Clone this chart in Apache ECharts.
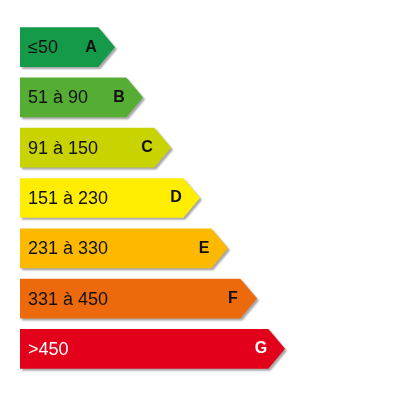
<!DOCTYPE html>
<html>
<head>
<meta charset="utf-8">
<script src="https://cdn.jsdelivr.net/npm/echarts@6/dist/echarts.min.js"></script>
<style>
    html, body { margin: 0; padding: 0; background: #fff; }
    #energy_label { width: 400px; height: 400px; }
</style>
</head>
<body>
<div id="energy_label"></div>
<script>
// classes énergie et plages de consommation
var classes = ['A', 'B', 'C', 'D', 'E', 'F', 'G'];
var ranges = ['≤50', '51 à 90', '91 à 150', '151 à 230', '231 à 330', '331 à 450', '>450'];
// longueur de chaque flèche (unités de l'axe x)
var lengths = [95, 123, 151, 180, 208, 237, 265];

var barColors = ['#149a48', '#55ae33', '#c9d300', '#ffed00', '#fcb900', '#ec6a0c', '#e2001a'];
var textColors = ['#111', '#111', '#111', '#111', '#111', '#111', '#fff'];

var energyLabel = {
    init: function () {
        var chart = echarts.init(document.getElementById('energy_label'));

        var seriesData = lengths.map(function (len, i) {
            return [len, i];
        });

        var option = {
            animation: false,
            grid: { left: 20, right: 0, top: 22, bottom: 26 },
            xAxis: { type: 'value', min: 0, max: 380, show: false },
            yAxis: { type: 'category', data: classes, inverse: true, show: false },
            series: [{
                type: 'custom',
                encode: { x: 0, y: 1 },
                data: seriesData,
                renderItem: function (params, api) {
                    var i = api.value(1);
                    var start = api.coord([0, i]);
                    var end = api.coord([api.value(0), i]);
                    var h = api.size([0, 1])[1] * 0.79;
                    var tip = h * 0.42;
                    var y = start[1];
                    return {
                        type: 'group',
                        children: [{
                            type: 'polygon',
                            shape: {
                                points: [
                                    [start[0], y - h / 2],
                                    [end[0] - tip, y - h / 2],
                                    [end[0], y],
                                    [end[0] - tip, y + h / 2],
                                    [start[0], y + h / 2]
                                ]
                            },
                            style: {
                                fill: barColors[i],
                                shadowBlur: 2,
                                shadowOffsetX: 2,
                                shadowOffsetY: 2,
                                shadowColor: 'rgba(0, 0, 0, 0.35)'
                            }
                        }, {
                            type: 'text',
                            style: {
                                text: ranges[i],
                                x: start[0] + 8,
                                y: y + 1,
                                fill: textColors[i],
                                fontSize: 18,
                                fontFamily: 'Liberation Sans, Arial, sans-serif',
                                textAlign: 'left',
                                textVerticalAlign: 'middle'
                            }
                        }, {
                            type: 'text',
                            style: {
                                text: classes[i],
                                x: end[0] - 24,
                                y: y,
                                fill: textColors[i],
                                fontSize: 16,
                                fontWeight: 'bold',
                                fontFamily: 'Liberation Sans, Arial, sans-serif',
                                textAlign: 'center',
                                textVerticalAlign: 'middle'
                            }
                        }]
                    };
                }
            }]
        };

        chart.setOption(option);
    }
};

energyLabel.init();
</script>
</body>
</html>
